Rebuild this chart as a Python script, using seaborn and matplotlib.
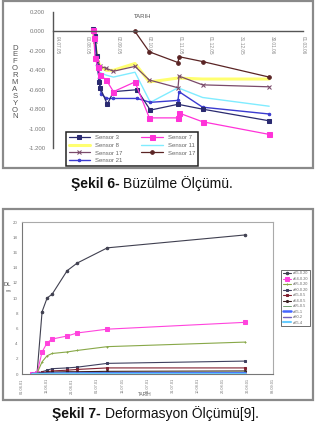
import matplotlib
matplotlib.use("Agg")
import matplotlib.pyplot as plt
import seaborn as sns
from matplotlib.patches import Rectangle

# ---------------- Chart 1 (Şekil 6) data ----------------
c1_xticks = [0, 30, 60, 90, 120, 150, 180, 210, 240]
c1_xticklabels = ["04.07.05", "03.08.05", "02.09.05", "02.10.05", "01.11.05",
                  "01.12.05", "31.12.05", "30.01.06", "01.03.06"]
c1_yticks = [0.2, 0.0, -0.2, -0.4, -0.6, -0.8, -1.0, -1.2]

s3_days = [35, 37, 39, 41, 42, 49, 55, 78, 91, 118, 142, 207]
s3_vals = [0.02, -0.05, -0.25, -0.52, -0.58, -0.75, -0.62, -0.60, -0.81, -0.75, -0.80, -0.92]
s7_days = [35, 36, 37, 40, 42, 48, 55, 76, 90, 118, 119, 142, 207]
s7_vals = [0.01, -0.07, -0.27, -0.37, -0.45, -0.50, -0.62, -0.52, -0.89, -0.89, -0.84, -0.93, -1.06]
s8_days = [35, 37, 39, 42, 48, 55, 76, 90, 118, 142, 207]
s8_vals = [0.0, -0.12, -0.28, -0.36, -0.40, -0.40, -0.33, -0.52, -0.48, -0.49, -0.49]
s11_days = [35, 37, 39, 41, 48, 55, 76, 91, 118, 142, 207]
s11_vals = [0.0, -0.15, -0.30, -0.42, -0.45, -0.47, -0.42, -0.73, -0.58, -0.68, -0.77]
s17a_days = [35, 37, 39, 42, 48, 55, 76, 90, 118, 119, 142, 207]
s17a_vals = [0.0, -0.10, -0.28, -0.36, -0.38, -0.41, -0.36, -0.50, -0.58, -0.46, -0.55, -0.57]
s17b_days = [76, 90, 118, 119, 142, 207]
s17b_vals = [0.0, -0.21, -0.32, -0.26, -0.31, -0.47]
s21_days = [35, 37, 39, 41, 43, 48, 55, 78, 91, 118, 119, 142, 207]
s21_vals = [0.02, -0.10, -0.35, -0.48, -0.64, -0.69, -0.69, -0.69, -0.73, -0.71, -0.62, -0.78, -0.85]

# ---------------- Chart 2 (Şekil 7) data ----------------
c2_xticks = [0, 10, 20, 30, 40, 50, 60, 70, 80, 90, 100]
c2_xticklabels = ["01.06.01", "11.06.01", "21.06.01", "01.07.01", "11.07.01", "21.07.01",
                  "31.07.01", "10.08.01", "20.08.01", "30.08.01", "09.09.01"]
c2_yticks = [0, 2, 4, 6, 8, 10, 12, 14, 16, 18, 20]
c2_days = [4, 6, 8, 10, 12, 18, 22, 34, 89]
c2_labels = ["ø35-0.20", "ø54-0.20", "ø95-0.20", "ø80-0.20", "ø35-0.5",
             "ø54-0.5", "ø95-0.5", "ø35-1", "ø80-2", "ø35-4"]
c2_vals = [
    [0, 0.1, 8.2, 10.0, 10.5, 13.6, 14.6, 16.6, 18.3],
    [0, 0.1, 2.9, 4.1, 4.6, 5.0, 5.4, 5.9, 6.8],
    [0, 0.1, 1.6, 2.4, 2.7, 2.9, 3.1, 3.6, 4.2],
    [0, 0.05, 0.3, 0.5, 0.7, 0.8, 0.9, 1.4, 1.7],
    [0, 0.05, 0.2, 0.3, 0.4, 0.5, 0.6, 0.8, 0.8],
    [0, 0.0, 0.1, 0.2, 0.25, 0.3, 0.3, 0.35, 0.4],
    [0, 0.0, 0.05, 0.1, 0.1, 0.15, 0.15, 0.2, 0.25],
    [0, 0.0, 0.02, 0.04, 0.05, 0.06, 0.07, 0.08, 0.1],
    [0, 0.0, 0.0, 0.02, 0.02, 0.03, 0.03, 0.04, 0.05],
    [0, 0.0, 0.0, 0.0, 0.01, 0.01, 0.01, 0.02, 0.02],
]

sns.set_theme(style="white")
plt.rcParams["font.family"] = ["Liberation Sans", "DejaVu Sans"]

W, H = 315, 422
fig = plt.figure(figsize=(W / 100, H / 100), dpi=100)
fig.patch.set_facecolor("white")


def fx(px):
    return px / W


def fy(py):
    return 1 - py / H


# frames
for (x0, y0, x1, y1) in [(3, 1, 313, 168), (3, 209, 313, 400)]:
    fig.patches.append(Rectangle((fx(x0), fy(y1)), fx(x1) - fx(x0), fy(y0) - fy(y1),
                                 transform=fig.transFigure, fill=False,
                                 edgecolor="#8a8a8a", linewidth=1.6))

# ================= Chart 1 =================
ax1 = fig.add_axes([fx(53), fy(148), fx(303) - fx(53), fy(12) - fy(148)])
ax1.set_facecolor("none")

series1 = [
    ("Sensor 8", s8_days, s8_vals, "#ffff70", None, 0, 2.2),
    ("Sensor 11", s11_days, s11_vals, "#80ecff", None, 0, 1.0),
    ("Sensor 17", s17a_days, s17a_vals, "#7a4a6a", "x", 2.5, 0.9),
    ("Sensor 17", s17b_days, s17b_vals, "#5a2424", "o", 2.6, 0.9),
    ("Sensor 21", s21_days, s21_vals, "#3a3ad0", "o", 1.8, 1.0),
    ("Sensor 3", s3_days, s3_vals, "#2a2a70", "s", 2.2, 0.9),
    ("Sensor 7", s7_days, s7_vals, "#ff33d8", "s", 3.6, 0.9),
]
handles1 = {}
for i, (lab, xd, yd, col, mk, ms, lw) in enumerate(series1):
    sns.lineplot(x=xd, y=yd, ax=ax1, sort=False, estimator=None, color=col,
                 marker=mk, markersize=ms, markeredgecolor=col, linewidth=lw,
                 legend=False)
    ln = ax1.lines[-1]
    handles1[i] = (ln, lab)

ax1.set_xlim(-4, 240)
ax1.set_ylim(-1.2, 0.2)
ax1.spines["top"].set_visible(False)
ax1.spines["right"].set_visible(False)
ax1.spines["bottom"].set_position(("data", 0))
for s in ["left", "bottom"]:
    ax1.spines[s].set_color("#555555")
    ax1.spines[s].set_linewidth(1.0)
ax1.set_xticks(c1_xticks)
ax1.set_xticklabels(c1_xticklabels, rotation=270, fontsize=3.4, color="#777777")
ax1.set_yticks(c1_yticks)
ax1.set_yticklabels([f"{v:.3f}" for v in c1_yticks], fontsize=4.3, color="#777777")
ax1.tick_params(axis="x", direction="inout", length=3, width=0.6, pad=1.5, colors="#666666",
                labelcolor="#888888")
ax1.tick_params(axis="y", direction="out", length=2.5, width=0.6, pad=3, colors="#666666",
                labelcolor="#777777")
ax1.set_xlabel("")
ax1.set_ylabel("")

fig.text(fx(143), fy(17), "TARIH", fontsize=4.3, color="#555555", ha="center", va="center")
for k, ch in enumerate("DEFORMASYON"):
    fig.text(fx(15), fy(48 + k * 6.9), ch, fontsize=5.6, color="#555555",
             ha="center", va="center")

order1 = [5, 0, 2, 4, 6, 1, 3]
leg1 = ax1.legend([handles1[i][0] for i in order1], [handles1[i][1] for i in order1],
                  ncol=2, loc="upper left", bbox_to_anchor=(fx(63), fy(129)),
                  bbox_transform=fig.transFigure, fontsize=4.3, handlelength=3.6,
                  handletextpad=0.8, columnspacing=3.2, labelspacing=0.45,
                  borderpad=0.45, frameon=True, fancybox=False, framealpha=1)
leg1.get_frame().set_edgecolor("#222222")
leg1.get_frame().set_linewidth(1.1)
for t in leg1.get_texts():
    t.set_color("#666666")

fig.text(fx(120), fy(184), "Şekil 6-", fontsize=10, fontweight="bold", ha="right",
         va="center", color="#111111")
fig.text(fx(123), fy(184), "Büzülme Ölçümü.", fontsize=10, ha="left", va="center",
         color="#111111")

# ================= Chart 2 =================
ax2 = fig.add_axes([fx(22), fy(374), fx(273) - fx(22), fy(222) - fy(374)])
styles2 = [
    ("#404050", "o", 1.8, 0.8),
    ("#ff44dd", "s", 2.6, 0.8),
    ("#88a848", "+", 2.0, 0.8),
    ("#404060", "s", 1.8, 0.8),
    ("#802030", "s", 1.8, 0.8),
    ("#3a2020", "o", 1.5, 0.8),
    ("#70a070", None, 0, 0.7),
    ("#4466ff", None, 0, 1.8),
    ("#7060c0", None, 0, 1.0),
    ("#66ccff", None, 0, 1.5),
]
handles2 = []
for vals, lab, (col, mk, ms, lw) in zip(c2_vals, c2_labels, styles2):
    sns.lineplot(x=c2_days, y=vals, ax=ax2, sort=False, estimator=None, color=col,
                 marker=mk, markersize=ms, markeredgecolor=col, linewidth=lw,
                 legend=False)
    handles2.append(ax2.lines[-1])

ax2.set_xlim(0, 100)
ax2.set_ylim(0, 20)
for s in ax2.spines.values():
    s.set_color("#aaaaaa")
    s.set_linewidth(0.8)
ax2.spines["bottom"].set_color("#777777")
ax2.spines["left"].set_color("#777777")
ax2.set_xticks(c2_xticks)
ax2.set_xticklabels(c2_xticklabels, rotation=90, fontsize=2.8, color="#888888")
ax2.set_yticks(c2_yticks)
ax2.set_yticklabels([str(v) for v in c2_yticks], fontsize=3.2, color="#777777")
ax2.tick_params(axis="both", direction="out", length=1.5, width=0.5, pad=1.5,
                colors="#777777")
ax2.set_xlabel("")
ax2.set_ylabel("")

fig.text(fx(145), fy(395), "TARIH", fontsize=3.4, color="#666666", ha="center", va="center")
fig.text(fx(7), fy(285), "DL", fontsize=4.2, color="#444444", ha="center", va="center")
fig.text(fx(9), fy(291), "mm", fontsize=2.4, color="#444444", ha="center", va="center")

leg2 = ax2.legend(handles2, c2_labels, loc="upper left", bbox_to_anchor=(fx(279), fy(268)),
                  bbox_transform=fig.transFigure, fontsize=2.8, handlelength=2.2,
                  handletextpad=0.5, labelspacing=0.38, borderpad=0.4, frameon=True,
                  fancybox=False, framealpha=1)
leg2.get_frame().set_edgecolor("#555555")
leg2.get_frame().set_linewidth(0.6)
for t in leg2.get_texts():
    t.set_color("#666666")

fig.text(fx(101), fy(414), "Şekil 7-", fontsize=10, fontweight="bold", ha="right",
         va="center", color="#111111")
fig.text(fx(105), fy(414), "Deformasyon Ölçümü[9].", fontsize=10, ha="left", va="center",
         color="#111111")

fig.savefig("out.png", dpi=100, facecolor="white")
